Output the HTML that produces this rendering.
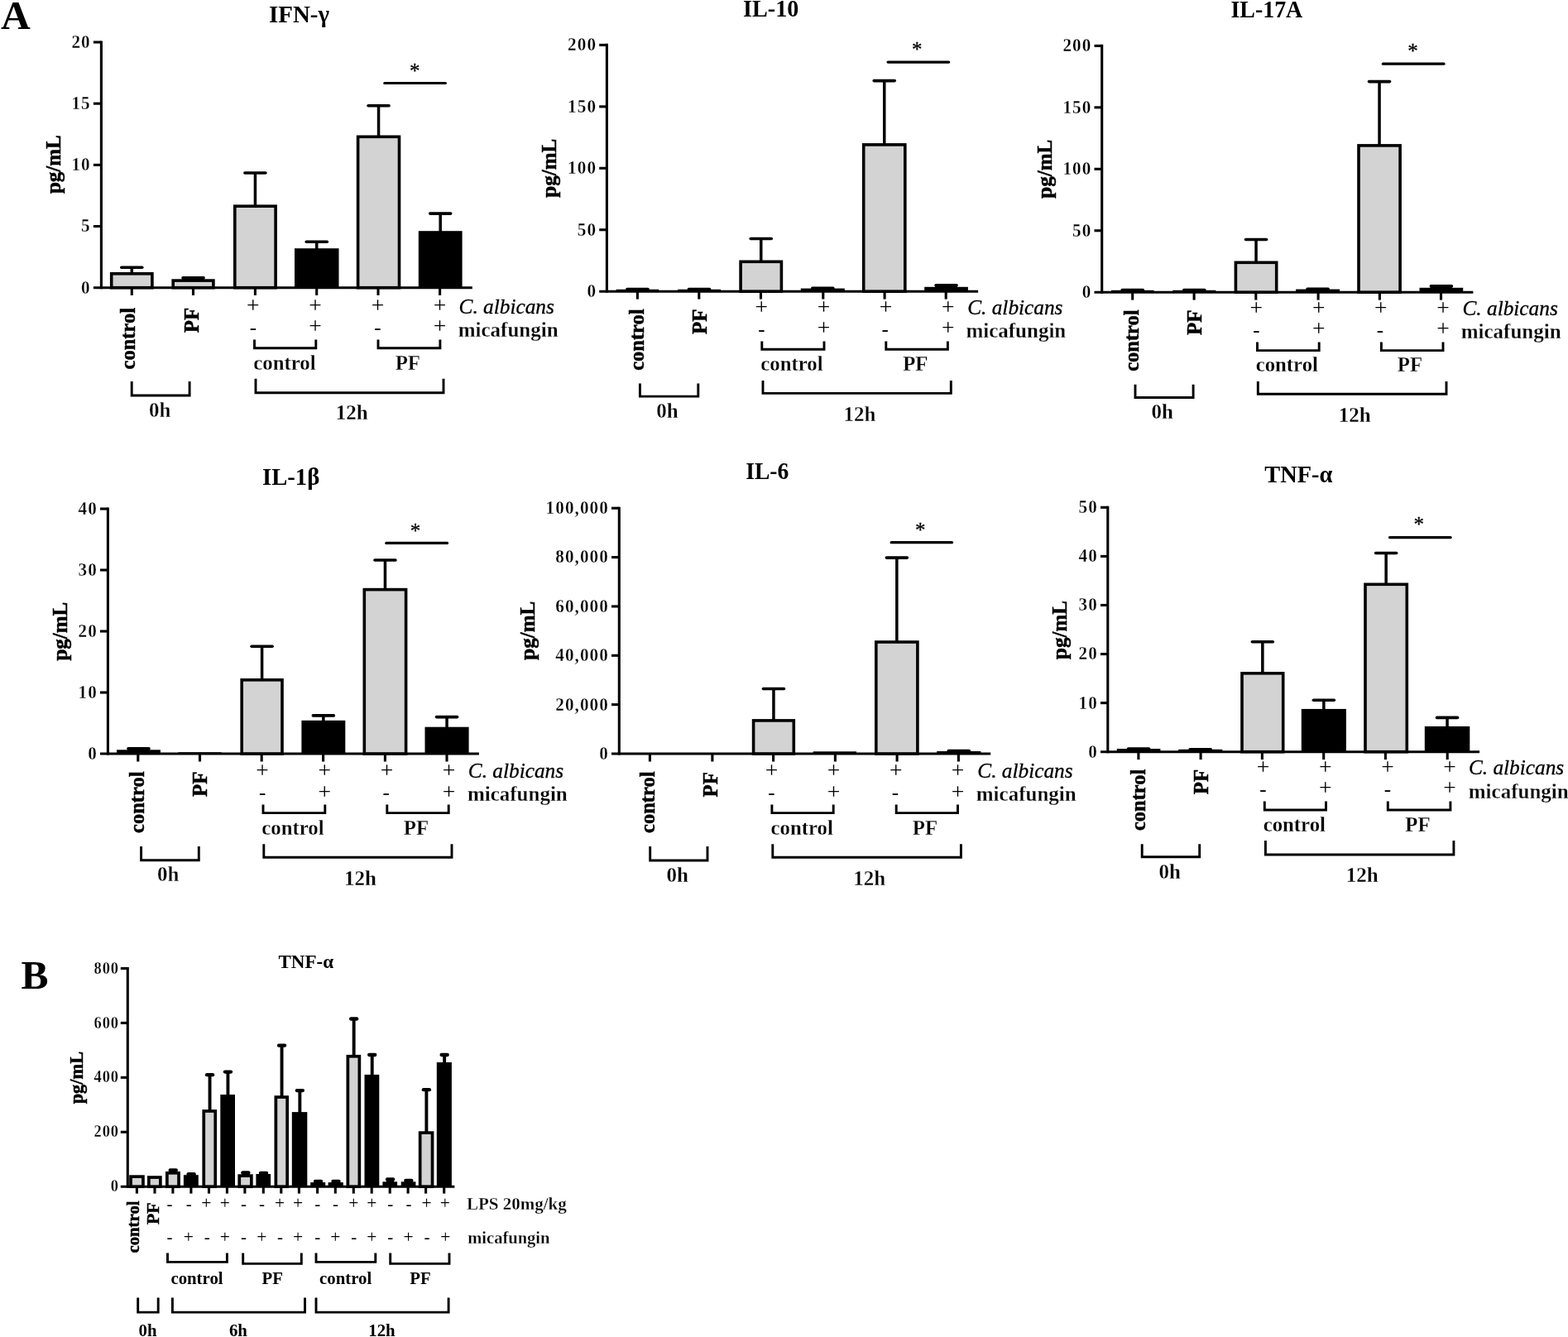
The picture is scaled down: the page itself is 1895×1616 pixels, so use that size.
<!DOCTYPE html>
<html lang="en">
<head>
<meta charset="utf-8">
<title>Figure</title>
<style>
html,body{margin:0;padding:0;background:#fff;}
body{width:1895px;height:1616px;overflow:hidden;}
svg{display:block;}
svg text{font-family:"Liberation Serif","DejaVu Serif",serif;fill:#000;stroke:none;font-weight:bold;}
svg text.n{font-weight:normal;}
svg text.s{font-weight:normal;stroke:#000;stroke-width:0.3px;}
svg text.r{stroke:#000;stroke-width:0.5px;}
svg text.b{stroke:#fff;stroke-width:0.28px;}
svg text.t{stroke:#fff;stroke-width:0.3px;}
svg text.i{font-weight:normal;font-style:italic;stroke:#000;stroke-width:0.3px;}
</style>
</head>
<body>
<svg xmlns="http://www.w3.org/2000/svg" width="1895" height="1616" viewBox="0 0 1895 1616">
<rect x="0" y="0" width="1895" height="1616" fill="#fff"/>
<g id="panel-a" stroke="#000">
<g stroke="none">
<text x="1" y="34.6" font-size="49.5">A</text>
</g>
<g>
<text font-size="30" transform="translate(324.94 26.8) scale(0.9657 1)">IFN-γ</text>
<line x1="122.4" y1="49.45" x2="122.4" y2="349.25" stroke-width="3.1"/>
<line x1="112.9" y1="347.7" x2="570.8" y2="347.7" stroke-width="3.1"/>
<text class="t" font-size="23.5" text-anchor="end" letter-spacing="1.2" transform="translate(109.78 354.6) scale(0.9 1)">0</text>
<line x1="112.9" y1="273.52" x2="122.4" y2="273.52" stroke-width="3.1"/>
<text class="t" font-size="23.5" text-anchor="end" letter-spacing="1.2" transform="translate(109.78 280.42) scale(0.9 1)">5</text>
<line x1="112.9" y1="199.35" x2="122.4" y2="199.35" stroke-width="3.1"/>
<text class="t" font-size="23.5" text-anchor="end" letter-spacing="1.2" transform="translate(109.78 206.25) scale(0.9 1)">10</text>
<line x1="112.9" y1="125.18" x2="122.4" y2="125.18" stroke-width="3.1"/>
<text class="t" font-size="23.5" text-anchor="end" letter-spacing="1.2" transform="translate(109.78 132.08) scale(0.9 1)">15</text>
<line x1="112.9" y1="51" x2="122.4" y2="51" stroke-width="3.1"/>
<text class="t" font-size="23.5" text-anchor="end" letter-spacing="1.2" transform="translate(109.78 57.9) scale(0.9 1)">20</text>
<text class="r" font-size="25" text-anchor="middle" transform="translate(72.8 198.7) rotate(-90)">pg/mL</text>
<line x1="159.3" y1="323.3" x2="159.3" y2="330" stroke-width="3.5"/>
<line x1="146.8" y1="323.3" x2="171.8" y2="323.3" stroke-width="3.6" stroke-linecap="round"/>
<rect x="134.7" y="330.8" width="49.2" height="16.9" fill="#d3d3d3" stroke-width="3.6"/>
<line x1="233.55" y1="335.8" x2="233.55" y2="338.3" stroke-width="3.5"/>
<line x1="221.05" y1="335.8" x2="246.05" y2="335.8" stroke-width="3.6" stroke-linecap="round"/>
<rect x="220.15" y="335.8" width="26.8" height="2.5" fill="#000" stroke="none"/>
<rect x="209.2" y="339.1" width="48.7" height="8.6" fill="#d3d3d3" stroke-width="3.6"/>
<line x1="308.45" y1="209" x2="308.45" y2="248.4" stroke-width="3.5"/>
<line x1="295.95" y1="209" x2="320.95" y2="209" stroke-width="3.6" stroke-linecap="round"/>
<rect x="283.8" y="249.2" width="49.3" height="98.5" fill="#d3d3d3" stroke-width="3.6"/>
<line x1="382.75" y1="292.2" x2="382.75" y2="301.2" stroke-width="3.5"/>
<line x1="370.25" y1="292.2" x2="395.25" y2="292.2" stroke-width="3.6" stroke-linecap="round"/>
<rect x="356" y="300.2" width="53.5" height="47.5" fill="#000" stroke="none"/>
<line x1="457.55" y1="127.8" x2="457.55" y2="164.5" stroke-width="3.5"/>
<line x1="445.05" y1="127.8" x2="470.05" y2="127.8" stroke-width="3.6" stroke-linecap="round"/>
<rect x="432.6" y="165.3" width="49.9" height="182.4" fill="#d3d3d3" stroke-width="3.6"/>
<line x1="532.2" y1="258.1" x2="532.2" y2="280.2" stroke-width="3.5"/>
<line x1="519.7" y1="258.1" x2="544.7" y2="258.1" stroke-width="3.6" stroke-linecap="round"/>
<rect x="505.8" y="279.2" width="52.8" height="68.5" fill="#000" stroke="none"/>
<line x1="159.3" y1="347.7" x2="159.3" y2="356.9" stroke-width="3.1"/>
<line x1="233.5" y1="347.7" x2="233.5" y2="356.9" stroke-width="3.1"/>
<line x1="308.4" y1="347.7" x2="308.4" y2="356.9" stroke-width="3.1"/>
<line x1="382.7" y1="347.7" x2="382.7" y2="356.9" stroke-width="3.1"/>
<line x1="457" y1="347.7" x2="457" y2="356.9" stroke-width="3.1"/>
<line x1="531.6" y1="347.7" x2="531.6" y2="356.9" stroke-width="3.1"/>
<text class="r" font-size="24.5" transform="translate(163 446.4) rotate(-90)">control</text>
<text class="r" font-size="25" transform="translate(239.8 402.2) rotate(-90)">PF</text>
<text x="305.8" y="377.51" class="n" font-size="27.5" text-anchor="middle">+</text>
<text x="381" y="377.51" class="n" font-size="27.5" text-anchor="middle">+</text>
<text x="456.5" y="377.51" class="n" font-size="27.5" text-anchor="middle">+</text>
<text x="531.6" y="377.51" class="n" font-size="27.5" text-anchor="middle">+</text>
<text x="305.9" y="404.2" class="n" font-size="25" text-anchor="middle">-</text>
<text x="381" y="402.51" class="n" font-size="27.5" text-anchor="middle">+</text>
<text x="456.5" y="404.2" class="n" font-size="25" text-anchor="middle">-</text>
<text x="531.6" y="402.51" class="n" font-size="27.5" text-anchor="middle">+</text>
<text x="554.6" y="378.5" class="i" font-size="25.3">C. albicans</text>
<text x="553.7" y="407" class="b" font-size="25">micafungin</text>
<polyline points="307.5,410.4 307.5,420.7 381.8,420.7 381.8,410.4" fill="none" stroke-width="2.9"/>
<polyline points="457,410.4 457,420.7 531.9,420.7 531.9,410.4" fill="none" stroke-width="2.9"/>
<polyline points="309,457.7 309,474.8 536,474.8 536,457.7" fill="none" stroke-width="2.9"/>
<polyline points="159.2,461 159.2,478 229.1,478 229.1,461" fill="none" stroke-width="2.9"/>
<text x="344" y="446.7" class="b" font-size="24.8" text-anchor="middle">control</text>
<text x="492.8" y="446.7" class="b" font-size="24.8" text-anchor="middle">PF</text>
<text class="b" font-size="24.3" text-anchor="middle" transform="translate(425.3 507.3) scale(1.03 1)">12h</text>
<text class="b" font-size="24.3" text-anchor="middle" transform="translate(193.3 503.9) scale(1.03 1)">0h</text>
<line x1="464.8" y1="100.5" x2="538.4" y2="100.5" stroke-width="3.2" stroke-linecap="round"/>
<text x="501.2" y="94.15" class="s" font-size="25" text-anchor="middle">*</text>
</g>
<g>
<text font-size="30" transform="translate(898.11 19.7) scale(0.9396 1)">IL-10</text>
<line x1="733.4" y1="52.85" x2="733.4" y2="353.75" stroke-width="3.1"/>
<line x1="724.2" y1="352.2" x2="1182.1" y2="352.2" stroke-width="3.1"/>
<text class="t" font-size="23.5" text-anchor="end" letter-spacing="1.2" transform="translate(721.08 359.1) scale(0.9 1)">0</text>
<line x1="724.2" y1="277.75" x2="733.4" y2="277.75" stroke-width="3.1"/>
<text class="t" font-size="23.5" text-anchor="end" letter-spacing="1.2" transform="translate(721.08 284.65) scale(0.9 1)">50</text>
<line x1="724.2" y1="203.3" x2="733.4" y2="203.3" stroke-width="3.1"/>
<text class="t" font-size="23.5" text-anchor="end" letter-spacing="1.2" transform="translate(721.08 210.2) scale(0.9 1)">100</text>
<line x1="724.2" y1="128.85" x2="733.4" y2="128.85" stroke-width="3.1"/>
<text class="t" font-size="23.5" text-anchor="end" letter-spacing="1.2" transform="translate(721.08 135.75) scale(0.9 1)">150</text>
<line x1="724.2" y1="54.4" x2="733.4" y2="54.4" stroke-width="3.1"/>
<text class="t" font-size="23.5" text-anchor="end" letter-spacing="1.2" transform="translate(721.08 61.3) scale(0.9 1)">200</text>
<text class="r" font-size="25" text-anchor="middle" transform="translate(672.4 203.3) rotate(-90)">pg/mL</text>
<line x1="770.45" y1="349.6" x2="770.45" y2="350.8" stroke-width="3.5"/>
<line x1="757.95" y1="349.6" x2="782.95" y2="349.6" stroke-width="3.6" stroke-linecap="round"/>
<rect x="757.05" y="349.6" width="26.8" height="1.2" fill="#000" stroke="none"/>
<rect x="744.7" y="349.8" width="51.5" height="2.4" fill="#000" stroke="none"/>
<line x1="845" y1="349.6" x2="845" y2="350.8" stroke-width="3.5"/>
<line x1="832.5" y1="349.6" x2="857.5" y2="349.6" stroke-width="3.6" stroke-linecap="round"/>
<rect x="831.6" y="349.6" width="26.8" height="1.2" fill="#000" stroke="none"/>
<rect x="819" y="349.8" width="52" height="2.4" fill="#000" stroke="none"/>
<line x1="919.75" y1="288.5" x2="919.75" y2="315.5" stroke-width="3.5"/>
<line x1="907.25" y1="288.5" x2="932.25" y2="288.5" stroke-width="3.6" stroke-linecap="round"/>
<rect x="895.1" y="316.3" width="49.3" height="35.9" fill="#d3d3d3" stroke-width="3.6"/>
<line x1="994.3" y1="348.2" x2="994.3" y2="349.6" stroke-width="3.5"/>
<line x1="981.8" y1="348.2" x2="1006.8" y2="348.2" stroke-width="3.6" stroke-linecap="round"/>
<rect x="980.9" y="348.2" width="26.8" height="1.4" fill="#000" stroke="none"/>
<rect x="967.8" y="348.6" width="53" height="3.6" fill="#000" stroke="none"/>
<line x1="1068.75" y1="97.6" x2="1068.75" y2="174.1" stroke-width="3.5"/>
<line x1="1056.25" y1="97.6" x2="1081.25" y2="97.6" stroke-width="3.6" stroke-linecap="round"/>
<rect x="1043.7" y="174.9" width="50.1" height="177.3" fill="#d3d3d3" stroke-width="3.6"/>
<line x1="1143.55" y1="344.7" x2="1143.55" y2="347.8" stroke-width="3.5"/>
<line x1="1131.05" y1="344.7" x2="1156.05" y2="344.7" stroke-width="3.6" stroke-linecap="round"/>
<rect x="1130.15" y="344.7" width="26.8" height="3.1" fill="#000" stroke="none"/>
<rect x="1117.2" y="346.8" width="52.7" height="5.4" fill="#000" stroke="none"/>
<line x1="770.4" y1="352.2" x2="770.4" y2="361.6" stroke-width="3.1"/>
<line x1="844.8" y1="352.2" x2="844.8" y2="361.6" stroke-width="3.1"/>
<line x1="919.5" y1="352.2" x2="919.5" y2="361.6" stroke-width="3.1"/>
<line x1="994.8" y1="352.2" x2="994.8" y2="361.6" stroke-width="3.1"/>
<line x1="1069.1" y1="352.2" x2="1069.1" y2="361.6" stroke-width="3.1"/>
<line x1="1143.2" y1="352.2" x2="1143.2" y2="361.6" stroke-width="3.1"/>
<text class="r" font-size="24.5" transform="translate(777.6 447.8) rotate(-90)">control</text>
<text class="r" font-size="25" transform="translate(853.6 403.9) rotate(-90)">PF</text>
<text x="920.3" y="379.61" class="n" font-size="27.5" text-anchor="middle">+</text>
<text x="995.5" y="379.61" class="n" font-size="27.5" text-anchor="middle">+</text>
<text x="1070.6" y="379.61" class="n" font-size="27.5" text-anchor="middle">+</text>
<text x="1145.8" y="379.61" class="n" font-size="27.5" text-anchor="middle">+</text>
<text x="920.3" y="405.9" class="n" font-size="25" text-anchor="middle">-</text>
<text x="995.5" y="404.51" class="n" font-size="27.5" text-anchor="middle">+</text>
<text x="1069.7" y="405.9" class="n" font-size="25" text-anchor="middle">-</text>
<text x="1145.8" y="404.51" class="n" font-size="27.5" text-anchor="middle">+</text>
<text x="1169.2" y="380" class="i" font-size="25.3">C. albicans</text>
<text x="1167.4" y="407.9" class="b" font-size="25">micafungin</text>
<polyline points="920.8,412.6 920.8,422.2 996,422.2 996,412.6" fill="none" stroke-width="2.9"/>
<polyline points="1070.8,412.6 1070.8,422.2 1145.4,422.2 1145.4,412.6" fill="none" stroke-width="2.9"/>
<polyline points="922,459.9 922,475.4 1149.3,475.4 1149.3,459.9" fill="none" stroke-width="2.9"/>
<polyline points="773.4,463.6 773.4,479.1 843.8,479.1 843.8,463.6" fill="none" stroke-width="2.9"/>
<text x="957" y="447.8" class="b" font-size="24.8" text-anchor="middle">control</text>
<text x="1106.3" y="448" class="b" font-size="24.8" text-anchor="middle">PF</text>
<text class="b" font-size="24.3" text-anchor="middle" transform="translate(1039 509) scale(1.03 1)">12h</text>
<text class="b" font-size="24.3" text-anchor="middle" transform="translate(806.5 504.7) scale(1.03 1)">0h</text>
<line x1="1073.1" y1="75.1" x2="1146.7" y2="75.1" stroke-width="3.2" stroke-linecap="round"/>
<text x="1108.3" y="68.35" class="s" font-size="25" text-anchor="middle">*</text>
</g>
<g>
<text font-size="30" transform="translate(1487.42 20.6) scale(0.9312 1)">IL-17A</text>
<line x1="1331.7" y1="53.85" x2="1331.7" y2="354.75" stroke-width="3.1"/>
<line x1="1322.5" y1="353.2" x2="1780.4" y2="353.2" stroke-width="3.1"/>
<text class="t" font-size="23.5" text-anchor="end" letter-spacing="1.2" transform="translate(1319.38 360.1) scale(0.9 1)">0</text>
<line x1="1322.5" y1="278.75" x2="1331.7" y2="278.75" stroke-width="3.1"/>
<text class="t" font-size="23.5" text-anchor="end" letter-spacing="1.2" transform="translate(1319.38 285.65) scale(0.9 1)">50</text>
<line x1="1322.5" y1="204.3" x2="1331.7" y2="204.3" stroke-width="3.1"/>
<text class="t" font-size="23.5" text-anchor="end" letter-spacing="1.2" transform="translate(1319.38 211.2) scale(0.9 1)">100</text>
<line x1="1322.5" y1="129.85" x2="1331.7" y2="129.85" stroke-width="3.1"/>
<text class="t" font-size="23.5" text-anchor="end" letter-spacing="1.2" transform="translate(1319.38 136.75) scale(0.9 1)">150</text>
<line x1="1322.5" y1="55.4" x2="1331.7" y2="55.4" stroke-width="3.1"/>
<text class="t" font-size="23.5" text-anchor="end" letter-spacing="1.2" transform="translate(1319.38 62.3) scale(0.9 1)">200</text>
<text class="r" font-size="25" text-anchor="middle" transform="translate(1270.7 204.3) rotate(-90)">pg/mL</text>
<line x1="1368.75" y1="350.6" x2="1368.75" y2="351.8" stroke-width="3.5"/>
<line x1="1356.25" y1="350.6" x2="1381.25" y2="350.6" stroke-width="3.6" stroke-linecap="round"/>
<rect x="1355.35" y="350.6" width="26.8" height="1.2" fill="#000" stroke="none"/>
<rect x="1343" y="350.8" width="51.5" height="2.4" fill="#000" stroke="none"/>
<line x1="1443.3" y1="350.6" x2="1443.3" y2="351.8" stroke-width="3.5"/>
<line x1="1430.8" y1="350.6" x2="1455.8" y2="350.6" stroke-width="3.6" stroke-linecap="round"/>
<rect x="1429.9" y="350.6" width="26.8" height="1.2" fill="#000" stroke="none"/>
<rect x="1417.3" y="350.8" width="52" height="2.4" fill="#000" stroke="none"/>
<line x1="1518.05" y1="289.5" x2="1518.05" y2="316.5" stroke-width="3.5"/>
<line x1="1505.55" y1="289.5" x2="1530.55" y2="289.5" stroke-width="3.6" stroke-linecap="round"/>
<rect x="1493.4" y="317.3" width="49.3" height="35.9" fill="#d3d3d3" stroke-width="3.6"/>
<line x1="1592.6" y1="349.2" x2="1592.6" y2="350.6" stroke-width="3.5"/>
<line x1="1580.1" y1="349.2" x2="1605.1" y2="349.2" stroke-width="3.6" stroke-linecap="round"/>
<rect x="1579.2" y="349.2" width="26.8" height="1.4" fill="#000" stroke="none"/>
<rect x="1566.1" y="349.6" width="53" height="3.6" fill="#000" stroke="none"/>
<line x1="1667.05" y1="98.6" x2="1667.05" y2="175.1" stroke-width="3.5"/>
<line x1="1654.55" y1="98.6" x2="1679.55" y2="98.6" stroke-width="3.6" stroke-linecap="round"/>
<rect x="1642" y="175.9" width="50.1" height="177.3" fill="#d3d3d3" stroke-width="3.6"/>
<line x1="1741.85" y1="345.7" x2="1741.85" y2="348.8" stroke-width="3.5"/>
<line x1="1729.35" y1="345.7" x2="1754.35" y2="345.7" stroke-width="3.6" stroke-linecap="round"/>
<rect x="1728.45" y="345.7" width="26.8" height="3.1" fill="#000" stroke="none"/>
<rect x="1715.5" y="347.8" width="52.7" height="5.4" fill="#000" stroke="none"/>
<line x1="1368.7" y1="353.2" x2="1368.7" y2="362.6" stroke-width="3.1"/>
<line x1="1443.1" y1="353.2" x2="1443.1" y2="362.6" stroke-width="3.1"/>
<line x1="1517.8" y1="353.2" x2="1517.8" y2="362.6" stroke-width="3.1"/>
<line x1="1593.1" y1="353.2" x2="1593.1" y2="362.6" stroke-width="3.1"/>
<line x1="1667.4" y1="353.2" x2="1667.4" y2="362.6" stroke-width="3.1"/>
<line x1="1741.5" y1="353.2" x2="1741.5" y2="362.6" stroke-width="3.1"/>
<text class="r" font-size="24.5" transform="translate(1375.9 448.8) rotate(-90)">control</text>
<text class="r" font-size="25" transform="translate(1451.9 404.9) rotate(-90)">PF</text>
<text x="1518.3" y="380.81" class="n" font-size="27.5" text-anchor="middle">+</text>
<text x="1593.8" y="380.81" class="n" font-size="27.5" text-anchor="middle">+</text>
<text x="1668.8" y="380.81" class="n" font-size="27.5" text-anchor="middle">+</text>
<text x="1744" y="380.81" class="n" font-size="27.5" text-anchor="middle">+</text>
<text x="1518.5" y="407.2" class="n" font-size="25" text-anchor="middle">-</text>
<text x="1593.8" y="405.71" class="n" font-size="27.5" text-anchor="middle">+</text>
<text x="1668" y="407.2" class="n" font-size="25" text-anchor="middle">-</text>
<text x="1744" y="405.71" class="n" font-size="27.5" text-anchor="middle">+</text>
<text x="1767.5" y="381" class="i" font-size="25.3">C. albicans</text>
<text x="1765.7" y="408.9" class="b" font-size="25">micafungin</text>
<polyline points="1519.5,413.5 1519.5,423.6 1594.2,423.6 1594.2,413.5" fill="none" stroke-width="2.9"/>
<polyline points="1669.4,413.5 1669.4,423.6 1744,423.6 1744,413.5" fill="none" stroke-width="2.9"/>
<polyline points="1520.3,461 1520.3,476.3 1748,476.3 1748,461" fill="none" stroke-width="2.9"/>
<polyline points="1372,464.8 1372,480.5 1442.1,480.5 1442.1,464.8" fill="none" stroke-width="2.9"/>
<text x="1555.3" y="449" class="b" font-size="24.8" text-anchor="middle">control</text>
<text x="1704" y="449" class="b" font-size="24.8" text-anchor="middle">PF</text>
<text class="b" font-size="24.3" text-anchor="middle" transform="translate(1637.3 509.8) scale(1.03 1)">12h</text>
<text class="b" font-size="24.3" text-anchor="middle" transform="translate(1404.8 505.6) scale(1.03 1)">0h</text>
<line x1="1671.4" y1="77.2" x2="1745" y2="77.2" stroke-width="3.2" stroke-linecap="round"/>
<text x="1707.4" y="69.65" class="s" font-size="25" text-anchor="middle">*</text>
</g>
<g>
<text font-size="30" transform="translate(316.99 586.1) scale(0.956 1)">IL-1β</text>
<line x1="130.4" y1="613.45" x2="130.4" y2="912.55" stroke-width="3.1"/>
<line x1="121" y1="911" x2="578.9" y2="911" stroke-width="3.1"/>
<text class="t" font-size="23.5" text-anchor="end" letter-spacing="1.2" transform="translate(117.88 917.9) scale(0.9 1)">0</text>
<line x1="121" y1="837" x2="130.4" y2="837" stroke-width="3.1"/>
<text class="t" font-size="23.5" text-anchor="end" letter-spacing="1.2" transform="translate(117.88 843.9) scale(0.9 1)">10</text>
<line x1="121" y1="763" x2="130.4" y2="763" stroke-width="3.1"/>
<text class="t" font-size="23.5" text-anchor="end" letter-spacing="1.2" transform="translate(117.88 769.9) scale(0.9 1)">20</text>
<line x1="121" y1="689" x2="130.4" y2="689" stroke-width="3.1"/>
<text class="t" font-size="23.5" text-anchor="end" letter-spacing="1.2" transform="translate(117.88 695.9) scale(0.9 1)">30</text>
<line x1="121" y1="615" x2="130.4" y2="615" stroke-width="3.1"/>
<text class="t" font-size="23.5" text-anchor="end" letter-spacing="1.2" transform="translate(117.88 621.9) scale(0.9 1)">40</text>
<text class="r" font-size="25" text-anchor="middle" transform="translate(81.2 763.2) rotate(-90)">pg/mL</text>
<line x1="167.45" y1="904.7" x2="167.45" y2="907.3" stroke-width="3.5"/>
<line x1="154.95" y1="904.7" x2="179.95" y2="904.7" stroke-width="3.6" stroke-linecap="round"/>
<rect x="154.05" y="904.7" width="26.8" height="2.6" fill="#000" stroke="none"/>
<rect x="141" y="906.3" width="52.9" height="4.7" fill="#000" stroke="none"/>
<rect x="215.3" y="909.2" width="52.4" height="1.8" fill="#000" stroke="none"/>
<line x1="316.6" y1="781.3" x2="316.6" y2="821" stroke-width="3.5"/>
<line x1="304.1" y1="781.3" x2="329.1" y2="781.3" stroke-width="3.6" stroke-linecap="round"/>
<rect x="292.2" y="821.8" width="48.8" height="89.2" fill="#d3d3d3" stroke-width="3.6"/>
<line x1="390.85" y1="864.9" x2="390.85" y2="871.8" stroke-width="3.5"/>
<line x1="378.35" y1="864.9" x2="403.35" y2="864.9" stroke-width="3.6" stroke-linecap="round"/>
<rect x="364.4" y="870.8" width="52.9" height="40.2" fill="#000" stroke="none"/>
<line x1="465.45" y1="677" x2="465.45" y2="711.8" stroke-width="3.5"/>
<line x1="452.95" y1="677" x2="477.95" y2="677" stroke-width="3.6" stroke-linecap="round"/>
<rect x="440.3" y="712.6" width="50.3" height="198.4" fill="#d3d3d3" stroke-width="3.6"/>
<line x1="540.05" y1="866.6" x2="540.05" y2="879.7" stroke-width="3.5"/>
<line x1="527.55" y1="866.6" x2="552.55" y2="866.6" stroke-width="3.6" stroke-linecap="round"/>
<rect x="513.5" y="878.7" width="53.1" height="32.3" fill="#000" stroke="none"/>
<line x1="166.8" y1="911" x2="166.8" y2="920.5" stroke-width="3.1"/>
<line x1="241.5" y1="911" x2="241.5" y2="920.5" stroke-width="3.1"/>
<line x1="316.2" y1="911" x2="316.2" y2="920.5" stroke-width="3.1"/>
<line x1="390.6" y1="911" x2="390.6" y2="920.5" stroke-width="3.1"/>
<line x1="465.4" y1="911" x2="465.4" y2="920.5" stroke-width="3.1"/>
<line x1="540" y1="911" x2="540" y2="920.5" stroke-width="3.1"/>
<text class="r" font-size="24.5" transform="translate(174 1006.9) rotate(-90)">control</text>
<text class="r" font-size="25" transform="translate(249.9 963) rotate(-90)">PF</text>
<text x="317.1" y="940.11" class="n" font-size="27.5" text-anchor="middle">+</text>
<text x="392.3" y="940.11" class="n" font-size="27.5" text-anchor="middle">+</text>
<text x="467.4" y="940.11" class="n" font-size="27.5" text-anchor="middle">+</text>
<text x="542.6" y="940.11" class="n" font-size="27.5" text-anchor="middle">+</text>
<text x="317.1" y="966.2" class="n" font-size="25" text-anchor="middle">-</text>
<text x="392.3" y="965.51" class="n" font-size="27.5" text-anchor="middle">+</text>
<text x="466.6" y="966.2" class="n" font-size="25" text-anchor="middle">-</text>
<text x="542.6" y="965.51" class="n" font-size="27.5" text-anchor="middle">+</text>
<text x="565.8" y="939.7" class="i" font-size="25.3">C. albicans</text>
<text x="564.9" y="967.5" class="b" font-size="25">micafungin</text>
<polyline points="318,972.4 318,982.6 392.8,982.6 392.8,972.4" fill="none" stroke-width="2.9"/>
<polyline points="467.8,972.4 467.8,982.6 542.2,982.6 542.2,972.4" fill="none" stroke-width="2.9"/>
<polyline points="318.8,1020.2 318.8,1036.3 546,1036.3 546,1020.2" fill="none" stroke-width="2.9"/>
<polyline points="170.6,1023.1 170.6,1039.7 240.3,1039.7 240.3,1023.1" fill="none" stroke-width="2.9"/>
<text x="354" y="1009.3" class="b" font-size="24.8" text-anchor="middle">control</text>
<text x="502.9" y="1009.3" class="b" font-size="24.8" text-anchor="middle">PF</text>
<text class="b" font-size="24.3" text-anchor="middle" transform="translate(435.5 1069.8) scale(1.03 1)">12h</text>
<text class="b" font-size="24.3" text-anchor="middle" transform="translate(203.3 1064.7) scale(1.03 1)">0h</text>
<line x1="466.8" y1="656.4" x2="540.5" y2="656.4" stroke-width="3.2" stroke-linecap="round"/>
<text x="502.1" y="650.45" class="s" font-size="25" text-anchor="middle">*</text>
</g>
<g>
<text font-size="30" transform="translate(901.13 578.9) scale(0.9205 1)">IL-6</text>
<line x1="748.3" y1="612.65" x2="748.3" y2="912.55" stroke-width="3.1"/>
<line x1="739" y1="911" x2="1197.2" y2="911" stroke-width="3.1"/>
<text class="t" font-size="23.5" text-anchor="end" letter-spacing="1.2" transform="translate(735.88 917.9) scale(0.9 1)">0</text>
<line x1="739" y1="851.64" x2="748.3" y2="851.64" stroke-width="3.1"/>
<text class="t" font-size="23.5" text-anchor="end" letter-spacing="1.2" transform="translate(735.88 858.54) scale(0.9 1)">20,000</text>
<line x1="739" y1="792.28" x2="748.3" y2="792.28" stroke-width="3.1"/>
<text class="t" font-size="23.5" text-anchor="end" letter-spacing="1.2" transform="translate(735.88 799.18) scale(0.9 1)">40,000</text>
<line x1="739" y1="732.92" x2="748.3" y2="732.92" stroke-width="3.1"/>
<text class="t" font-size="23.5" text-anchor="end" letter-spacing="1.2" transform="translate(735.88 739.82) scale(0.9 1)">60,000</text>
<line x1="739" y1="673.56" x2="748.3" y2="673.56" stroke-width="3.1"/>
<text class="t" font-size="23.5" text-anchor="end" letter-spacing="1.2" transform="translate(735.88 680.46) scale(0.9 1)">80,000</text>
<line x1="739" y1="614.2" x2="748.3" y2="614.2" stroke-width="3.1"/>
<text class="t" font-size="23.5" text-anchor="end" letter-spacing="1.2" transform="translate(735.88 621.1) scale(0.9 1)">100,000</text>
<text class="r" font-size="25" text-anchor="middle" transform="translate(645.8 762.3) rotate(-90)">pg/mL</text>
<line x1="934.95" y1="832.5" x2="934.95" y2="870.1" stroke-width="3.5"/>
<line x1="922.45" y1="832.5" x2="947.45" y2="832.5" stroke-width="3.6" stroke-linecap="round"/>
<rect x="910.6" y="870.9" width="48.7" height="40.1" fill="#d3d3d3" stroke-width="3.6"/>
<rect x="982.7" y="908.3" width="52.4" height="2.7" fill="#000" stroke="none"/>
<line x1="1083.85" y1="674.1" x2="1083.85" y2="775.2" stroke-width="3.5"/>
<line x1="1071.35" y1="674.1" x2="1096.35" y2="674.1" stroke-width="3.6" stroke-linecap="round"/>
<rect x="1058.8" y="776" width="50.1" height="135" fill="#d3d3d3" stroke-width="3.6"/>
<line x1="1158.8" y1="907.6" x2="1158.8" y2="909" stroke-width="3.5"/>
<line x1="1146.3" y1="907.6" x2="1171.3" y2="907.6" stroke-width="3.6" stroke-linecap="round"/>
<rect x="1145.4" y="907.6" width="26.8" height="1.4" fill="#000" stroke="none"/>
<rect x="1132.2" y="908" width="53.2" height="3" fill="#000" stroke="none"/>
<line x1="785.4" y1="911" x2="785.4" y2="920.5" stroke-width="3.1"/>
<line x1="860.9" y1="911" x2="860.9" y2="920.5" stroke-width="3.1"/>
<line x1="934.6" y1="911" x2="934.6" y2="920.5" stroke-width="3.1"/>
<line x1="1009.4" y1="911" x2="1009.4" y2="920.5" stroke-width="3.1"/>
<line x1="1084.1" y1="911" x2="1084.1" y2="920.5" stroke-width="3.1"/>
<line x1="1158.4" y1="911" x2="1158.4" y2="920.5" stroke-width="3.1"/>
<text class="r" font-size="24.5" transform="translate(790.5 1006.9) rotate(-90)">control</text>
<text class="r" font-size="25" transform="translate(866.5 963.5) rotate(-90)">PF</text>
<text x="932.4" y="940.11" class="n" font-size="27.5" text-anchor="middle">+</text>
<text x="1007.6" y="940.11" class="n" font-size="27.5" text-anchor="middle">+</text>
<text x="1082.7" y="940.11" class="n" font-size="27.5" text-anchor="middle">+</text>
<text x="1157.5" y="940.11" class="n" font-size="27.5" text-anchor="middle">+</text>
<text x="932.4" y="966.2" class="n" font-size="25" text-anchor="middle">-</text>
<text x="1007.6" y="965.51" class="n" font-size="27.5" text-anchor="middle">+</text>
<text x="1082" y="966.2" class="n" font-size="25" text-anchor="middle">-</text>
<text x="1157.5" y="965.51" class="n" font-size="27.5" text-anchor="middle">+</text>
<text x="1181.3" y="939.7" class="i" font-size="25.3">C. albicans</text>
<text x="1179.8" y="967.5" class="b" font-size="25">micafungin</text>
<polyline points="932.9,972.4 932.9,982.6 1007.2,982.6 1007.2,972.4" fill="none" stroke-width="2.9"/>
<polyline points="1083.2,972.4 1083.2,982.6 1157.5,982.6 1157.5,972.4" fill="none" stroke-width="2.9"/>
<polyline points="933.8,1020.2 933.8,1036.3 1161.4,1036.3 1161.4,1020.2" fill="none" stroke-width="2.9"/>
<polyline points="785.7,1023.1 785.7,1040 855,1040 855,1023.1" fill="none" stroke-width="2.9"/>
<text x="969.2" y="1009.3" class="b" font-size="24.8" text-anchor="middle">control</text>
<text x="1118" y="1009.3" class="b" font-size="24.8" text-anchor="middle">PF</text>
<text class="b" font-size="24.3" text-anchor="middle" transform="translate(1050.8 1069.8) scale(1.03 1)">12h</text>
<text class="b" font-size="24.3" text-anchor="middle" transform="translate(818.6 1065.6) scale(1.03 1)">0h</text>
<line x1="1077.2" y1="655.7" x2="1150.5" y2="655.7" stroke-width="3.2" stroke-linecap="round"/>
<text x="1112.3" y="648.65" class="s" font-size="25" text-anchor="middle">*</text>
</g>
<g>
<text font-size="30" transform="translate(1528.18 583) scale(0.9477 1)">TNF-α</text>
<line x1="1338.8" y1="611.75" x2="1338.8" y2="910.25" stroke-width="3.1"/>
<line x1="1330" y1="908.7" x2="1788.1" y2="908.7" stroke-width="3.1"/>
<text class="t" font-size="23.5" text-anchor="end" letter-spacing="1.2" transform="translate(1326.88 915.6) scale(0.9 1)">0</text>
<line x1="1330" y1="849.62" x2="1338.8" y2="849.62" stroke-width="3.1"/>
<text class="t" font-size="23.5" text-anchor="end" letter-spacing="1.2" transform="translate(1326.88 856.52) scale(0.9 1)">10</text>
<line x1="1330" y1="790.54" x2="1338.8" y2="790.54" stroke-width="3.1"/>
<text class="t" font-size="23.5" text-anchor="end" letter-spacing="1.2" transform="translate(1326.88 797.44) scale(0.9 1)">20</text>
<line x1="1330" y1="731.46" x2="1338.8" y2="731.46" stroke-width="3.1"/>
<text class="t" font-size="23.5" text-anchor="end" letter-spacing="1.2" transform="translate(1326.88 738.36) scale(0.9 1)">30</text>
<line x1="1330" y1="672.38" x2="1338.8" y2="672.38" stroke-width="3.1"/>
<text class="t" font-size="23.5" text-anchor="end" letter-spacing="1.2" transform="translate(1326.88 679.28) scale(0.9 1)">40</text>
<line x1="1330" y1="613.3" x2="1338.8" y2="613.3" stroke-width="3.1"/>
<text class="t" font-size="23.5" text-anchor="end" letter-spacing="1.2" transform="translate(1326.88 620.2) scale(0.9 1)">50</text>
<text class="r" font-size="25" text-anchor="middle" transform="translate(1289.4 761.5) rotate(-90)">pg/mL</text>
<line x1="1376.1" y1="905" x2="1376.1" y2="906" stroke-width="3.5"/>
<line x1="1363.6" y1="905" x2="1388.6" y2="905" stroke-width="3.6" stroke-linecap="round"/>
<rect x="1362.7" y="905" width="26.8" height="1" fill="#000" stroke="none"/>
<rect x="1349.8" y="905" width="52.6" height="3.7" fill="#000" stroke="none"/>
<line x1="1450.7" y1="905.9" x2="1450.7" y2="906.8" stroke-width="3.5"/>
<line x1="1438.2" y1="905.9" x2="1463.2" y2="905.9" stroke-width="3.6" stroke-linecap="round"/>
<rect x="1437.3" y="905.9" width="26.8" height="0.9" fill="#000" stroke="none"/>
<rect x="1424.1" y="905.8" width="53.2" height="2.9" fill="#000" stroke="none"/>
<line x1="1525.85" y1="775.8" x2="1525.85" y2="813" stroke-width="3.5"/>
<line x1="1513.35" y1="775.8" x2="1538.35" y2="775.8" stroke-width="3.6" stroke-linecap="round"/>
<rect x="1501" y="813.8" width="49.7" height="94.9" fill="#d3d3d3" stroke-width="3.6"/>
<line x1="1599.85" y1="846.2" x2="1599.85" y2="857.9" stroke-width="3.5"/>
<line x1="1587.35" y1="846.2" x2="1612.35" y2="846.2" stroke-width="3.6" stroke-linecap="round"/>
<rect x="1572.8" y="856.9" width="54.1" height="51.8" fill="#000" stroke="none"/>
<line x1="1675.15" y1="668.5" x2="1675.15" y2="705.5" stroke-width="3.5"/>
<line x1="1662.65" y1="668.5" x2="1687.65" y2="668.5" stroke-width="3.6" stroke-linecap="round"/>
<rect x="1650" y="706.3" width="50.3" height="202.4" fill="#d3d3d3" stroke-width="3.6"/>
<line x1="1749.05" y1="867.4" x2="1749.05" y2="878.9" stroke-width="3.5"/>
<line x1="1736.55" y1="867.4" x2="1761.55" y2="867.4" stroke-width="3.6" stroke-linecap="round"/>
<rect x="1721.8" y="877.9" width="54.5" height="30.8" fill="#000" stroke="none"/>
<line x1="1375.9" y1="908.7" x2="1375.9" y2="918.1" stroke-width="3.1"/>
<line x1="1451.1" y1="908.7" x2="1451.1" y2="918.1" stroke-width="3.1"/>
<line x1="1525.4" y1="908.7" x2="1525.4" y2="918.1" stroke-width="3.1"/>
<line x1="1599.7" y1="908.7" x2="1599.7" y2="918.1" stroke-width="3.1"/>
<line x1="1674.4" y1="908.7" x2="1674.4" y2="918.1" stroke-width="3.1"/>
<line x1="1749.2" y1="908.7" x2="1749.2" y2="918.1" stroke-width="3.1"/>
<text class="r" font-size="24.5" transform="translate(1383.9 1004.1) rotate(-90)">control</text>
<text class="r" font-size="25" transform="translate(1460.4 960.2) rotate(-90)">PF</text>
<text x="1526.5" y="936.01" class="n" font-size="27.5" text-anchor="middle">+</text>
<text x="1601.7" y="936.01" class="n" font-size="27.5" text-anchor="middle">+</text>
<text x="1676.9" y="936.01" class="n" font-size="27.5" text-anchor="middle">+</text>
<text x="1752.1" y="936.01" class="n" font-size="27.5" text-anchor="middle">+</text>
<text x="1526.5" y="962.3" class="n" font-size="25" text-anchor="middle">-</text>
<text x="1601.7" y="961.01" class="n" font-size="27.5" text-anchor="middle">+</text>
<text x="1676.9" y="962.3" class="n" font-size="25" text-anchor="middle">-</text>
<text x="1752.1" y="961.01" class="n" font-size="27.5" text-anchor="middle">+</text>
<text x="1774.9" y="936.3" class="i" font-size="25.3">C. albicans</text>
<text x="1774.8" y="964.8" class="b" font-size="25">micafungin</text>
<polyline points="1528.3,968.5 1528.3,979 1602.5,979 1602.5,968.5" fill="none" stroke-width="2.9"/>
<polyline points="1677.3,968.5 1677.3,979 1752.9,979 1752.9,968.5" fill="none" stroke-width="2.9"/>
<polyline points="1529.4,1016 1529.4,1033 1756.9,1033 1756.9,1016" fill="none" stroke-width="2.9"/>
<polyline points="1380.2,1020.2 1380.2,1035.8 1449.7,1035.8 1449.7,1020.2" fill="none" stroke-width="2.9"/>
<text x="1564.3" y="1004.9" class="b" font-size="24.8" text-anchor="middle">control</text>
<text x="1713.4" y="1004.9" class="b" font-size="24.8" text-anchor="middle">PF</text>
<text class="b" font-size="24.3" text-anchor="middle" transform="translate(1646.2 1065.9) scale(1.03 1)">12h</text>
<text class="b" font-size="24.3" text-anchor="middle" transform="translate(1413.6 1062.2) scale(1.03 1)">0h</text>
<line x1="1679.5" y1="649.6" x2="1753.1" y2="649.6" stroke-width="3.2" stroke-linecap="round"/>
<text x="1714.7" y="642.45" class="s" font-size="25" text-anchor="middle">*</text>
</g>
</g>
<g id="panel-b" stroke="#000">
<text x="25.5" y="1194.6" font-size="49.5">B</text>
<text font-size="23.6" transform="translate(336.46 1170) scale(0.9785 1)">TNF-α</text>
<line x1="154.3" y1="1168.95" x2="154.3" y2="1435.75" stroke-width="3.1"/>
<line x1="145.8" y1="1434.2" x2="549.4" y2="1434.2" stroke-width="3.1"/>
<text class="t" font-size="20.5" text-anchor="end" letter-spacing="1.0" transform="translate(143.9 1440.3) scale(0.9 1)">0</text>
<line x1="145.8" y1="1368.28" x2="154.3" y2="1368.28" stroke-width="3.1"/>
<text class="t" font-size="20.5" text-anchor="end" letter-spacing="1.0" transform="translate(143.9 1374.38) scale(0.9 1)">200</text>
<line x1="145.8" y1="1302.35" x2="154.3" y2="1302.35" stroke-width="3.1"/>
<text class="t" font-size="20.5" text-anchor="end" letter-spacing="1.0" transform="translate(143.9 1308.45) scale(0.9 1)">400</text>
<line x1="145.8" y1="1236.42" x2="154.3" y2="1236.42" stroke-width="3.1"/>
<text class="t" font-size="20.5" text-anchor="end" letter-spacing="1.0" transform="translate(143.9 1242.52) scale(0.9 1)">600</text>
<line x1="145.8" y1="1170.5" x2="154.3" y2="1170.5" stroke-width="3.1"/>
<text class="t" font-size="20.5" text-anchor="end" letter-spacing="1.0" transform="translate(143.9 1176.6) scale(0.9 1)">800</text>
<text class="r" font-size="22.4" text-anchor="middle" transform="translate(100.2 1302.6) rotate(-90)">pg/mL</text>
<rect x="158.05" y="1422.15" width="14.9" height="12.05" fill="#d3d3d3" stroke-width="3.7"/>
<rect x="179.85" y="1423.05" width="14" height="11.15" fill="#d3d3d3" stroke-width="3.7"/>
<line x1="209.25" y1="1414.4" x2="209.25" y2="1416.9" stroke-width="3.9"/>
<line x1="205.7" y1="1414.4" x2="212.8" y2="1414.4" stroke-width="4.3" stroke-linecap="round"/>
<rect x="204.62" y="1414.4" width="9.25" height="2.5" fill="#000" stroke="none"/>
<rect x="201.85" y="1417.75" width="14.2" height="16.45" fill="#d3d3d3" stroke-width="3.7"/>
<line x1="231.15" y1="1419.2" x2="231.15" y2="1421.2" stroke-width="3.9"/>
<line x1="227.6" y1="1419.2" x2="234.7" y2="1419.2" stroke-width="4.3" stroke-linecap="round"/>
<rect x="226.53" y="1419.2" width="9.25" height="2" fill="#000" stroke="none"/>
<rect x="221.9" y="1420.2" width="17.9" height="14" fill="#000" stroke="none"/>
<line x1="253.55" y1="1299.2" x2="253.55" y2="1342.1" stroke-width="3.9"/>
<line x1="250" y1="1299.2" x2="257.1" y2="1299.2" stroke-width="4.3" stroke-linecap="round"/>
<rect x="246.25" y="1342.95" width="14" height="91.25" fill="#d3d3d3" stroke-width="3.7"/>
<line x1="275.45" y1="1295.6" x2="275.45" y2="1324" stroke-width="3.9"/>
<line x1="271.9" y1="1295.6" x2="279" y2="1295.6" stroke-width="4.3" stroke-linecap="round"/>
<rect x="266.3" y="1323" width="17.7" height="111.2" fill="#000" stroke="none"/>
<line x1="296.85" y1="1417.4" x2="296.85" y2="1420.3" stroke-width="3.9"/>
<line x1="293.3" y1="1417.4" x2="300.4" y2="1417.4" stroke-width="4.3" stroke-linecap="round"/>
<rect x="292.22" y="1417.4" width="9.25" height="2.9" fill="#000" stroke="none"/>
<rect x="289.25" y="1421.15" width="14.6" height="13.05" fill="#d3d3d3" stroke-width="3.7"/>
<line x1="318.55" y1="1418" x2="318.55" y2="1420" stroke-width="3.9"/>
<line x1="315" y1="1418" x2="322.1" y2="1418" stroke-width="4.3" stroke-linecap="round"/>
<rect x="313.93" y="1418" width="9.25" height="2" fill="#000" stroke="none"/>
<rect x="309.4" y="1419" width="17.7" height="15.2" fill="#000" stroke="none"/>
<line x1="340.55" y1="1263.7" x2="340.55" y2="1325.2" stroke-width="3.9"/>
<line x1="337" y1="1263.7" x2="344.1" y2="1263.7" stroke-width="4.3" stroke-linecap="round"/>
<rect x="333.35" y="1326.05" width="13.8" height="108.15" fill="#d3d3d3" stroke-width="3.7"/>
<line x1="362.35" y1="1318.1" x2="362.35" y2="1345.1" stroke-width="3.9"/>
<line x1="358.8" y1="1318.1" x2="365.9" y2="1318.1" stroke-width="4.3" stroke-linecap="round"/>
<rect x="352.8" y="1344.1" width="18.5" height="90.1" fill="#000" stroke="none"/>
<line x1="384.5" y1="1428" x2="384.5" y2="1430.1" stroke-width="3.9"/>
<line x1="380.95" y1="1428" x2="388.05" y2="1428" stroke-width="4.3" stroke-linecap="round"/>
<rect x="379.88" y="1428" width="9.25" height="2.1" fill="#000" stroke="none"/>
<rect x="375.2" y="1429.1" width="18" height="5.1" fill="#000" stroke="none"/>
<line x1="406" y1="1428" x2="406" y2="1430.1" stroke-width="3.9"/>
<line x1="402.45" y1="1428" x2="409.55" y2="1428" stroke-width="4.3" stroke-linecap="round"/>
<rect x="401.38" y="1428" width="9.25" height="2.1" fill="#000" stroke="none"/>
<rect x="396.6" y="1429.1" width="18.2" height="5.1" fill="#000" stroke="none"/>
<line x1="427.65" y1="1231.5" x2="427.65" y2="1275.9" stroke-width="3.9"/>
<line x1="424.1" y1="1231.5" x2="431.2" y2="1231.5" stroke-width="4.3" stroke-linecap="round"/>
<rect x="420.35" y="1276.75" width="14" height="157.45" fill="#d3d3d3" stroke-width="3.7"/>
<line x1="449.7" y1="1275" x2="449.7" y2="1299.9" stroke-width="3.9"/>
<line x1="446.15" y1="1275" x2="453.25" y2="1275" stroke-width="4.3" stroke-linecap="round"/>
<rect x="440.5" y="1298.9" width="17.8" height="135.3" fill="#000" stroke="none"/>
<line x1="471.55" y1="1425.4" x2="471.55" y2="1429.3" stroke-width="3.9"/>
<line x1="468" y1="1425.4" x2="475.1" y2="1425.4" stroke-width="4.3" stroke-linecap="round"/>
<rect x="466.93" y="1425.4" width="9.25" height="3.9" fill="#000" stroke="none"/>
<rect x="462.4" y="1428.3" width="17.7" height="5.9" fill="#000" stroke="none"/>
<line x1="493.85" y1="1427" x2="493.85" y2="1429.3" stroke-width="3.9"/>
<line x1="490.3" y1="1427" x2="497.4" y2="1427" stroke-width="4.3" stroke-linecap="round"/>
<rect x="489.22" y="1427" width="9.25" height="2.3" fill="#000" stroke="none"/>
<rect x="484.7" y="1428.3" width="17.7" height="5.9" fill="#000" stroke="none"/>
<line x1="515.4" y1="1317.2" x2="515.4" y2="1368.3" stroke-width="3.9"/>
<line x1="511.85" y1="1317.2" x2="518.95" y2="1317.2" stroke-width="4.3" stroke-linecap="round"/>
<rect x="507.65" y="1369.15" width="14.9" height="65.05" fill="#d3d3d3" stroke-width="3.7"/>
<line x1="537.15" y1="1275" x2="537.15" y2="1285" stroke-width="3.9"/>
<line x1="533.6" y1="1275" x2="540.7" y2="1275" stroke-width="4.3" stroke-linecap="round"/>
<rect x="527.8" y="1284" width="18.1" height="150.2" fill="#000" stroke="none"/>
<line x1="165.4" y1="1434.2" x2="165.4" y2="1442.6" stroke-width="3.1"/>
<line x1="187" y1="1434.2" x2="187" y2="1442.6" stroke-width="3.1"/>
<line x1="208.9" y1="1434.2" x2="208.9" y2="1442.6" stroke-width="3.1"/>
<line x1="230.9" y1="1434.2" x2="230.9" y2="1442.6" stroke-width="3.1"/>
<line x1="252.5" y1="1434.2" x2="252.5" y2="1442.6" stroke-width="3.1"/>
<line x1="274.4" y1="1434.2" x2="274.4" y2="1442.6" stroke-width="3.1"/>
<line x1="295.9" y1="1434.2" x2="295.9" y2="1442.6" stroke-width="3.1"/>
<line x1="318.3" y1="1434.2" x2="318.3" y2="1442.6" stroke-width="3.1"/>
<line x1="339.8" y1="1434.2" x2="339.8" y2="1442.6" stroke-width="3.1"/>
<line x1="361.4" y1="1434.2" x2="361.4" y2="1442.6" stroke-width="3.1"/>
<line x1="383.6" y1="1434.2" x2="383.6" y2="1442.6" stroke-width="3.1"/>
<line x1="405.3" y1="1434.2" x2="405.3" y2="1442.6" stroke-width="3.1"/>
<line x1="427.3" y1="1434.2" x2="427.3" y2="1442.6" stroke-width="3.1"/>
<line x1="449.2" y1="1434.2" x2="449.2" y2="1442.6" stroke-width="3.1"/>
<line x1="471.2" y1="1434.2" x2="471.2" y2="1442.6" stroke-width="3.1"/>
<line x1="493.1" y1="1434.2" x2="493.1" y2="1442.6" stroke-width="3.1"/>
<line x1="514.6" y1="1434.2" x2="514.6" y2="1442.6" stroke-width="3.1"/>
<line x1="536.7" y1="1434.2" x2="536.7" y2="1442.6" stroke-width="3.1"/>
<text class="r" font-size="20.8" transform="translate(168.4 1514.6) rotate(-90)">control</text>
<text class="r" font-size="21.8" transform="translate(192 1480) rotate(-90)">PF</text>
<text x="205" y="1461.51" class="n" font-size="21" text-anchor="middle">-</text>
<text x="228.3" y="1461.51" class="n" font-size="21" text-anchor="middle">-</text>
<text x="249.4" y="1460.57" class="n" font-size="21.5" text-anchor="middle">+</text>
<text x="271.7" y="1460.57" class="n" font-size="21.5" text-anchor="middle">+</text>
<text x="294.5" y="1461.51" class="n" font-size="21" text-anchor="middle">-</text>
<text x="316.6" y="1461.51" class="n" font-size="21" text-anchor="middle">-</text>
<text x="338.1" y="1460.57" class="n" font-size="21.5" text-anchor="middle">+</text>
<text x="360" y="1460.57" class="n" font-size="21.5" text-anchor="middle">+</text>
<text x="383.7" y="1461.51" class="n" font-size="21" text-anchor="middle">-</text>
<text x="405.6" y="1461.51" class="n" font-size="21" text-anchor="middle">-</text>
<text x="427.3" y="1460.57" class="n" font-size="21.5" text-anchor="middle">+</text>
<text x="449.2" y="1460.57" class="n" font-size="21.5" text-anchor="middle">+</text>
<text x="471.7" y="1461.51" class="n" font-size="21" text-anchor="middle">-</text>
<text x="494" y="1461.51" class="n" font-size="21" text-anchor="middle">-</text>
<text x="515.6" y="1460.57" class="n" font-size="21.5" text-anchor="middle">+</text>
<text x="537.9" y="1460.57" class="n" font-size="21.5" text-anchor="middle">+</text>
<text x="205" y="1502.21" class="n" font-size="21" text-anchor="middle">-</text>
<text x="227.8" y="1501.97" class="n" font-size="21.5" text-anchor="middle">+</text>
<text x="250.3" y="1502.21" class="n" font-size="21" text-anchor="middle">-</text>
<text x="271.7" y="1501.97" class="n" font-size="21.5" text-anchor="middle">+</text>
<text x="294.5" y="1502.21" class="n" font-size="21" text-anchor="middle">-</text>
<text x="316.2" y="1501.97" class="n" font-size="21.5" text-anchor="middle">+</text>
<text x="338.4" y="1502.21" class="n" font-size="21" text-anchor="middle">-</text>
<text x="360" y="1501.97" class="n" font-size="21.5" text-anchor="middle">+</text>
<text x="383.7" y="1502.21" class="n" font-size="21" text-anchor="middle">-</text>
<text x="405.3" y="1501.97" class="n" font-size="21.5" text-anchor="middle">+</text>
<text x="427.8" y="1502.21" class="n" font-size="21" text-anchor="middle">-</text>
<text x="449.2" y="1501.97" class="n" font-size="21.5" text-anchor="middle">+</text>
<text x="471.7" y="1502.21" class="n" font-size="21" text-anchor="middle">-</text>
<text x="493.5" y="1501.97" class="n" font-size="21.5" text-anchor="middle">+</text>
<text x="515.9" y="1502.21" class="n" font-size="21" text-anchor="middle">-</text>
<text x="538.2" y="1501.97" class="n" font-size="21.5" text-anchor="middle">+</text>
<text x="564" y="1462.4" class="b" font-size="21">LPS 20mg/kg</text>
<text x="565.3" y="1503.4" class="b" font-size="20.5">micafungin</text>
<polyline points="202.5,1514.4 202.5,1525.4 274.4,1525.4 274.4,1514.4" fill="none" stroke-width="2.9"/>
<polyline points="293.7,1514.4 293.7,1527.4 364.3,1527.4 364.3,1514.4" fill="none" stroke-width="2.9"/>
<polyline points="382,1514.4 382,1525.4 453.8,1525.4 453.8,1514.4" fill="none" stroke-width="2.9"/>
<polyline points="471.7,1514.4 471.7,1527.4 543,1527.4 543,1514.4" fill="none" stroke-width="2.9"/>
<polyline points="166.7,1568.4 166.7,1586.1 191.2,1586.1 191.2,1568.4" fill="none" stroke-width="2.9"/>
<polyline points="208.4,1568.4 208.4,1586.1 368.5,1586.1 368.5,1568.4" fill="none" stroke-width="2.9"/>
<polyline points="382,1568.4 382,1586.1 542.1,1586.1 542.1,1568.4" fill="none" stroke-width="2.9"/>
<text x="238" y="1551.5" font-size="20.8" text-anchor="middle">control</text>
<text x="329.2" y="1552" font-size="20.8" text-anchor="middle">PF</text>
<text x="417.6" y="1551.5" font-size="20.8" text-anchor="middle">control</text>
<text x="507.9" y="1552" font-size="20.8" text-anchor="middle">PF</text>
<text x="178.5" y="1614.9" font-size="20.8" text-anchor="middle">0h</text>
<text x="287.9" y="1614.9" font-size="20.8" text-anchor="middle">6h</text>
<text x="461.5" y="1614.9" font-size="20.8" text-anchor="middle">12h</text>
</g>
</svg>
</body>
</html>
